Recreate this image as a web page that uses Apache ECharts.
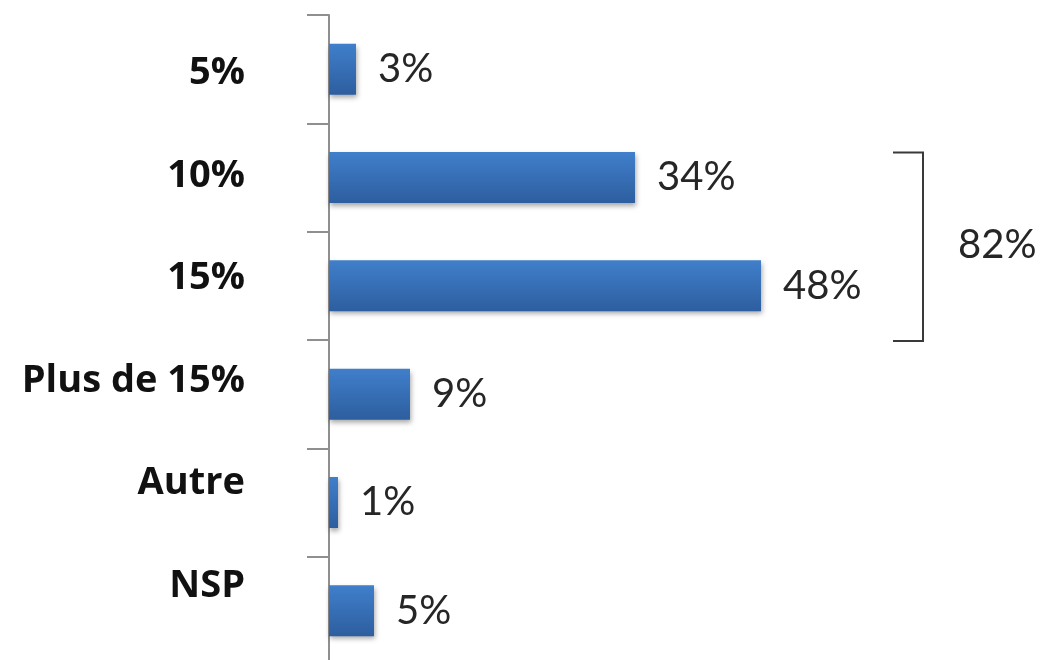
<!DOCTYPE html>
<html>
<head>
<meta charset="utf-8">
<script src="https://cdn.jsdelivr.net/npm/echarts@6/dist/echarts.min.js"></script>
<style>html,body{margin:0;padding:0;background:#fff;}#c{width:1041px;height:660px;}</style>
</head>
<body>
<div id="c"></div>
<script>
var categories = ['5%', '10%', '15%', 'Plus de 15%', 'Autre', 'NSP'];
var values = [3, 34, 48, 9, 1, 5];
var bracketCategories = ['10%', '15%'];
var bracketTotal = 82;
var bracketX = 66;

var chart = echarts.init(document.getElementById('c'));
var FONT = 'Lato';
var CAT_FONT = 'Open Sans';

function bracketRender(params, api) {
  var top = api.coord([api.value(0), bracketCategories[0]]);
  var bot = api.coord([api.value(0), bracketCategories[1]]);
  var band = api.size([0, 1])[1];
  var x = top[0];
  var y1 = top[1] - 25;
  var y2 = bot[1] + band / 2 + 1;
  var arm = 30;
  return {
    type: 'group',
    children: [
      { type: 'polyline', shape: { points: [[x - arm, y1], [x, y1], [x, y2], [x - arm, y2]] },
        style: { stroke: '#3a3a3a', lineWidth: 2, fill: null } },
      { type: 'text', style: { text: api.value(1) + '%', x: x + 35, y: (y1 + y2) / 2 - 2,
        fill: '#262626', font: '40px ' + FONT, textVerticalAlign: 'middle', textAlign: 'left' } }
    ]
  };
}

chart.setOption({
  animation: false,
  grid: [
    { left: 329, right: 1, top: 15, height: 650, outerBoundsMode: 'none', containLabel: false },
    { left: 329, right: 1, top: 22, height: 615, outerBoundsMode: 'none', containLabel: false }
  ],
  xAxis: [
    { type: 'value', gridIndex: 0, min: 0, max: 79, show: false },
    { type: 'value', gridIndex: 1, min: 0, max: 1, show: false }
  ],
  yAxis: [
    { type: 'category', gridIndex: 0, data: categories, inverse: true,
      axisLine: { show: true, lineStyle: { color: '#8f8f8f', width: 2 } },
      axisTick: { show: true, length: 22, lineStyle: { color: '#8f8f8f', width: 2 } },
      axisLabel: { show: false }, splitLine: { show: false } },
    { type: 'category', gridIndex: 1, data: categories, inverse: true,
      axisLine: { show: false }, axisTick: { show: false }, splitLine: { show: false },
      axisLabel: { show: true, margin: 84, color: '#111', fontFamily: CAT_FONT, fontWeight: 'bold', fontSize: 38 } }
  ],
  series: [
    { type: 'bar', xAxisIndex: 0, yAxisIndex: 0, data: values, barWidth: 51,
      itemStyle: {
        color: new echarts.graphic.LinearGradient(0, 0, 0, 1, [
          { offset: 0, color: '#407fcb' }, { offset: 1, color: '#2d5e9f' }
        ]),
        shadowColor: 'rgba(0,0,0,0.35)', shadowBlur: 5, shadowOffsetX: 1, shadowOffsetY: 3
      },
      label: { show: true, position: 'right', distance: 22, formatter: '{c}%',
        color: '#262626', fontFamily: FONT, fontSize: 40 } },
    { type: 'custom', xAxisIndex: 0, yAxisIndex: 0, renderItem: bracketRender,
      data: [[bracketX, bracketTotal]], silent: true }
  ]
});
</script>
</body>
</html>
